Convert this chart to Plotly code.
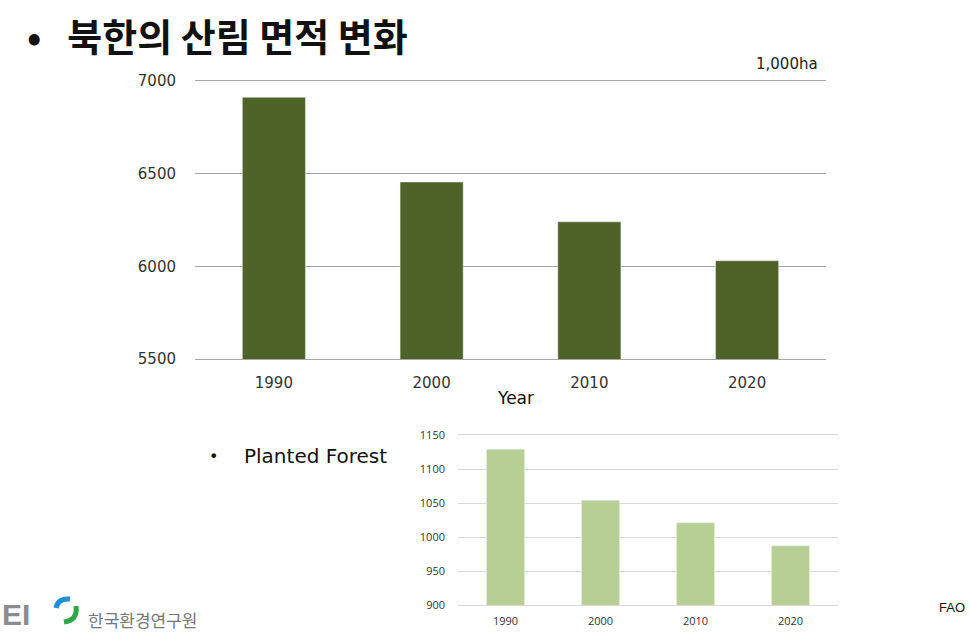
import plotly.graph_objects as go

years = ["1990", "2000", "2010", "2020"]
forest_area = [6912, 6455, 6240, 6030]          # 1,000 ha
planted_forest = [1129, 1054, 1021, 987]        # 1,000 ha
main_ticks = [5500, 6000, 6500, 7000]
small_ticks = [900, 950, 1000, 1050, 1100, 1150]

W, H = 970, 634
def px(x): return x / W
def py(y): return 1 - y / H

fig = go.Figure()
fig.add_trace(go.Bar(x=years, y=forest_area, marker_color="#4F6228", width=0.4,
                     xaxis="x", yaxis="y", showlegend=False))
fig.add_trace(go.Bar(x=years, y=planted_forest, marker_color="#B7CF94", width=0.4,
                     xaxis="x2", yaxis="y2", showlegend=False))

fig.update_layout(
    width=W, height=H, margin=dict(l=0, r=0, t=0, b=0, autoexpand=False),
    paper_bgcolor="white", plot_bgcolor="white",
    xaxis=dict(domain=[px(195), px(826)], anchor="y", showgrid=False, automargin=False,
               showline=True, mirror=True, linecolor="#A6A6A6", linewidth=1.3,
               ticks="", tickfont=dict(family="DejaVu Sans", size=15, color="#333"),
               ticklabelstandoff=10, fixedrange=True),
    yaxis=dict(domain=[py(359), py(81)], anchor="x", range=[5500, 7000], automargin=False,
               tickvals=main_ticks, showgrid=True, gridcolor="#A6A6A6", gridwidth=1.3,
               zeroline=False, showline=False, ticks="",
               tickfont=dict(family="DejaVu Sans", size=15, color="#333"),
               ticklabelstandoff=18),
    xaxis2=dict(domain=[px(458), px(838)], anchor="y2", showgrid=False, automargin=False,
                showline=True, mirror=True, linecolor="#D9D9D9", linewidth=1,
                ticks="", tickfont=dict(family="Open Sans", size=11, color="#333"),
                ticklabelstandoff=6),
    yaxis2=dict(domain=[py(605), py(435)], anchor="x2", range=[900, 1150], automargin=False,
                tickvals=small_ticks, showgrid=True, gridcolor="#D9D9D9", gridwidth=1,
                zeroline=False, showline=False, ticks="",
                tickfont=dict(family="Open Sans", size=11, color="#333"),
                ticklabelstandoff=12),
    bargap=0.6,
)

annots = [
    dict(x=px(25), y=py(35), text="<b>•   북한의 산림 면적 변화</b>", xanchor="left", yanchor="middle",
         font=dict(family="Noto Sans CJK KR", size=38, color="#111")),
    dict(x=px(820), y=py(64), text="1,000ha", xanchor="right", yanchor="middle",
         font=dict(family="DejaVu Sans", size=15, color="#222")),
    dict(x=px(515), y=py(398), text="Year", xanchor="center", yanchor="middle",
         font=dict(family="DejaVu Sans", size=17, color="#111")),
    dict(x=px(207), y=py(456), text="•", xanchor="left", yanchor="middle",
         font=dict(family="DejaVu Sans", size=16, color="#111")),
    dict(x=px(242), y=py(456), text="Planted Forest", xanchor="left", yanchor="middle",
         font=dict(family="DejaVu Sans", size=20, color="#111")),
    dict(x=px(967), y=py(607), text="FAO", xanchor="right", yanchor="middle",
         font=dict(family="Liberation Sans", size=13, color="#111")),
    dict(x=px(0), y=py(633), text="<b>EI</b>", xanchor="left", yanchor="bottom",
         font=dict(family="Liberation Sans", size=30, color="#8C8C8C")),
    dict(x=px(86), y=py(619), text="한국환경연구원", xanchor="left", yanchor="middle",
         font=dict(family="Noto Sans CJK KR", size=17, color="#777")),
]
fig.update_layout(annotations=[dict(a, xref="paper", yref="paper", showarrow=False) for a in annots])

fig.update_layout(shapes=[
    dict(type="path", xref="paper", yref="paper",
         path=f"M {px(56)} {py(608)} Q {px(58)} {py(598)} {px(70)} {py(599)}",
         line=dict(color="#1E90D6", width=5)),
    dict(type="path", xref="paper", yref="paper",
         path=f"M {px(76)} {py(606)} Q {px(78)} {py(620)} {px(64)} {py(622)}",
         line=dict(color="#2EA84A", width=5)),
])

fig.write_html("out.html")
